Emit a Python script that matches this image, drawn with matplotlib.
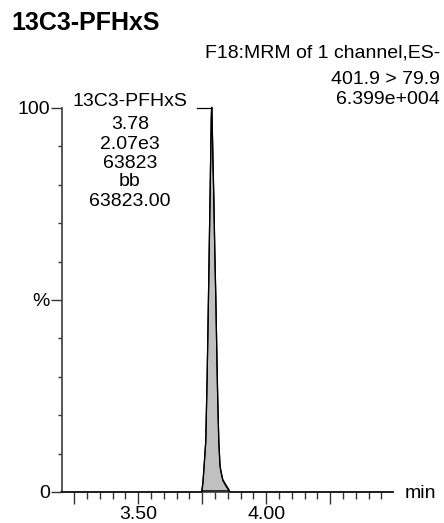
import matplotlib
matplotlib.use("Agg")
import matplotlib.pyplot as plt
from matplotlib.ticker import FixedLocator, FixedFormatter
import numpy as np

# ---- data ----
title = "13C3-PFHxS"
header_lines = ["F18:MRM of 1 channel,ES-", "401.9 > 79.9", "6.399e+004"]
peak_labels = ["13C3-PFHxS", "3.78", "2.07e3", "63823", "bb", "63823.00"]

trace_time = [3.20, 3.748, 3.752, 3.756, 3.7635, 3.769, 3.774, 3.778, 3.782, 3.785, 3.7865,
              3.788, 3.7915, 3.7955, 3.799, 3.803, 3.8065, 3.810, 3.8145, 3.819, 3.822,
              3.830, 3.842, 3.857, 4.495]
trace_pct = [0.0, 0.0, 2.0, 5.5, 13.0, 30.0, 50.0, 67.0, 84.0, 97.0, 100.0,
             98.0, 87.0, 75.0, 62.0, 50.0, 37.0, 25.0, 13.0, 7.0, 5.5,
             3.0, 1.6, 0.0, 0.0]
peak_start, peak_end = 3.748, 3.857
apex_time, apex_pct = 3.7865, 100.0

x_major = [3.25, 3.50, 3.75, 4.00, 4.25]
x_major_labels = ["", "3.50", "", "4.00", ""]
x_minor = [3.25 + 0.05 * i for i in range(25)]
y_major = [0, 50, 100]
y_major_labels = ["0", "%", "100"]
y_minor = list(range(0, 101, 10))

# ---- figure ----
W, H = 444, 523
plt.rcParams["font.family"] = ["Liberation Sans", "DejaVu Sans"]
fig = plt.figure(figsize=(W / 100, H / 100), dpi=100)

def px(x, y):
    return x / W, 1 - y / H

l, r, t, b = 61.5, 393, 108, 492
ax = fig.add_axes([l / W, 1 - b / H, (r - l) / W, (b - t) / H])
ax.set_xlim(3.20, 4.495)
ax.set_ylim(0, 100)

t_arr = np.array(trace_time)
p_arr = np.array(trace_pct)
mask = (t_arr >= peak_start) & (t_arr <= peak_end)
ax.fill(t_arr[mask], p_arr[mask] + 0.3, facecolor="#c0c0c0", edgecolor="black",
        linewidth=0.9, zorder=3, clip_on=False)
ax.plot(t_arr, p_arr, color="black", linewidth=0.9, zorder=4, clip_on=False)

for s in ["top", "right"]:
    ax.spines[s].set_visible(False)
for s in ["left", "bottom"]:
    ax.spines[s].set_color("#4a4a4a")
    ax.spines[s].set_linewidth(1.3)

ax.xaxis.set_major_locator(FixedLocator(x_major))
ax.xaxis.set_major_formatter(FixedFormatter(x_major_labels))
ax.xaxis.set_minor_locator(FixedLocator(x_minor))
ax.yaxis.set_major_locator(FixedLocator(y_major))
ax.yaxis.set_major_formatter(FixedFormatter(y_major_labels))
ax.yaxis.set_minor_locator(FixedLocator(y_minor))

ax.tick_params(axis="x", which="major", length=8.5, width=1.0, color="#333333",
               labelsize=14, pad=1.5)
ax.tick_params(axis="x", which="minor", length=5, width=1.0, color="#333333")
ax.tick_params(axis="y", which="major", length=8, width=1.0, color="#333333",
               labelsize=14, pad=0.5)
ax.tick_params(axis="y", which="minor", length=3, width=1.0, color="#333333")

# peak annotation
label_x = 3.4676
label_y = [100.4, 94.6, 89.4, 84.4, 79.7, 74.5]
for txt, yy in zip(peak_labels, label_y):
    ax.text(label_x, yy, txt, ha="center", va="baseline", fontsize=14, zorder=5)
ax.plot([3.4676 + 0.2615, apex_time], [apex_pct, apex_pct], color="black",
        linewidth=0.9, clip_on=False, zorder=5)

# header texts
fig.text(*px(11, 30), title, fontsize=18, fontweight="bold", ha="left", va="baseline")
for txt, yb in zip(header_lines, [57, 84, 104]):
    fig.text(*px(440, yb), txt, fontsize=14, ha="right", va="baseline")
fig.text(*px(405, 498), "min", fontsize=14, ha="left", va="baseline")

fig.savefig("out.png", dpi=100)
